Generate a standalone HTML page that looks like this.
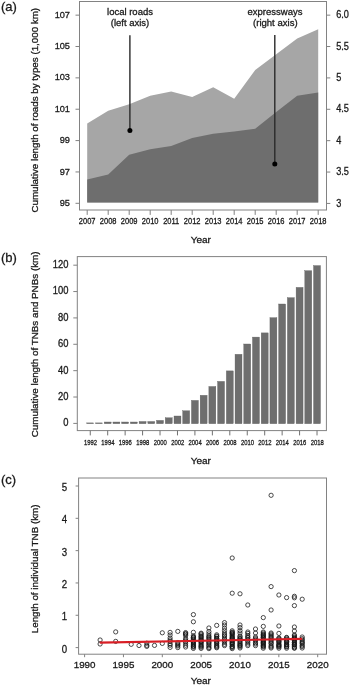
<!DOCTYPE html>
<html><head><meta charset="utf-8"><title>Figure</title>
<style>
html,body{margin:0;padding:0;background:#fff;}
svg{display:block;font-family:"Liberation Sans", Arial, sans-serif;}
</style></head><body>
<svg width="350" height="685" viewBox="0 0 350 685">
<rect width="350" height="685" fill="#fff"/>
<rect x="79.5" y="1.5" width="247.0" height="208.5" fill="none" stroke="#828282" stroke-width="1"/>
<polygon points="87.2,202.6 87.2,123.6 108.2,110.7 129.2,104.3 150.2,95.8 171.2,91.5 192.2,97.0 213.2,87.2 234.2,98.8 255.2,70.1 276.2,54.2 297.2,38.5 318.2,29.3 318.2,202.6" fill="#a6a6a6"/>
<polygon points="87.2,202.6 87.2,179.6 108.2,174.4 129.2,154.7 150.2,149.2 171.2,146.0 192.2,138.1 213.2,133.8 234.2,131.5 255.2,128.7 276.2,112.0 297.2,95.8 318.2,92.4 318.2,202.6" fill="#6e6e6e"/>
<line x1="75.50" y1="15.15" x2="79.50" y2="15.15" stroke="#828282" stroke-width="1.0" />
<text transform="translate(70.00,17.75) scale(0.94,1)" font-size="9.8" text-anchor="end" fill="#1a1a1a" stroke="#1a1a1a" stroke-width="0.3" >107</text>
<line x1="75.50" y1="46.51" x2="79.50" y2="46.51" stroke="#828282" stroke-width="1.0" />
<text transform="translate(70.00,49.11) scale(0.94,1)" font-size="9.8" text-anchor="end" fill="#1a1a1a" stroke="#1a1a1a" stroke-width="0.3" >105</text>
<line x1="75.50" y1="77.87" x2="79.50" y2="77.87" stroke="#828282" stroke-width="1.0" />
<text transform="translate(70.00,80.47) scale(0.94,1)" font-size="9.8" text-anchor="end" fill="#1a1a1a" stroke="#1a1a1a" stroke-width="0.3" >103</text>
<line x1="75.50" y1="109.23" x2="79.50" y2="109.23" stroke="#828282" stroke-width="1.0" />
<text transform="translate(70.00,111.83) scale(0.94,1)" font-size="9.8" text-anchor="end" fill="#1a1a1a" stroke="#1a1a1a" stroke-width="0.3" >101</text>
<line x1="75.50" y1="140.59" x2="79.50" y2="140.59" stroke="#828282" stroke-width="1.0" />
<text transform="translate(70.00,143.19) scale(0.94,1)" font-size="9.8" text-anchor="end" fill="#1a1a1a" stroke="#1a1a1a" stroke-width="0.3" >99</text>
<line x1="75.50" y1="171.95" x2="79.50" y2="171.95" stroke="#828282" stroke-width="1.0" />
<text transform="translate(70.00,174.55) scale(0.94,1)" font-size="9.8" text-anchor="end" fill="#1a1a1a" stroke="#1a1a1a" stroke-width="0.3" >97</text>
<line x1="75.50" y1="203.31" x2="79.50" y2="203.31" stroke="#828282" stroke-width="1.0" />
<text transform="translate(70.00,205.91) scale(0.94,1)" font-size="9.8" text-anchor="end" fill="#1a1a1a" stroke="#1a1a1a" stroke-width="0.3" >95</text>
<line x1="326.50" y1="15.15" x2="330.30" y2="15.15" stroke="#828282" stroke-width="1.0" />
<text transform="translate(336.20,18.25) scale(0.89,1)" font-size="10.3" text-anchor="start" fill="#1a1a1a" stroke="#1a1a1a" stroke-width="0.3" >6.0</text>
<line x1="326.50" y1="46.53" x2="330.30" y2="46.53" stroke="#828282" stroke-width="1.0" />
<text transform="translate(336.20,49.63) scale(0.89,1)" font-size="10.3" text-anchor="start" fill="#1a1a1a" stroke="#1a1a1a" stroke-width="0.3" >5.5</text>
<line x1="326.50" y1="77.91" x2="330.30" y2="77.91" stroke="#828282" stroke-width="1.0" />
<text transform="translate(336.20,81.01) scale(0.89,1)" font-size="10.3" text-anchor="start" fill="#1a1a1a" stroke="#1a1a1a" stroke-width="0.3" >5</text>
<line x1="326.50" y1="109.29" x2="330.30" y2="109.29" stroke="#828282" stroke-width="1.0" />
<text transform="translate(336.20,112.39) scale(0.89,1)" font-size="10.3" text-anchor="start" fill="#1a1a1a" stroke="#1a1a1a" stroke-width="0.3" >4.5</text>
<line x1="326.50" y1="140.67" x2="330.30" y2="140.67" stroke="#828282" stroke-width="1.0" />
<text transform="translate(336.20,143.77) scale(0.89,1)" font-size="10.3" text-anchor="start" fill="#1a1a1a" stroke="#1a1a1a" stroke-width="0.3" >4</text>
<line x1="326.50" y1="172.05" x2="330.30" y2="172.05" stroke="#828282" stroke-width="1.0" />
<text transform="translate(336.20,175.15) scale(0.89,1)" font-size="10.3" text-anchor="start" fill="#1a1a1a" stroke="#1a1a1a" stroke-width="0.3" >3.5</text>
<line x1="326.50" y1="203.43" x2="330.30" y2="203.43" stroke="#828282" stroke-width="1.0" />
<text transform="translate(336.20,206.53) scale(0.89,1)" font-size="10.3" text-anchor="start" fill="#1a1a1a" stroke="#1a1a1a" stroke-width="0.3" >3</text>
<line x1="87.20" y1="210.00" x2="87.20" y2="214.90" stroke="#828282" stroke-width="1.0" />
<text transform="translate(87.20,224.40) scale(0.835,1)" font-size="9.0" text-anchor="middle" fill="#1a1a1a" stroke="#1a1a1a" stroke-width="0.3" >2007</text>
<line x1="108.20" y1="210.00" x2="108.20" y2="214.90" stroke="#828282" stroke-width="1.0" />
<text transform="translate(108.20,224.40) scale(0.835,1)" font-size="9.0" text-anchor="middle" fill="#1a1a1a" stroke="#1a1a1a" stroke-width="0.3" >2008</text>
<line x1="129.20" y1="210.00" x2="129.20" y2="214.90" stroke="#828282" stroke-width="1.0" />
<text transform="translate(129.20,224.40) scale(0.835,1)" font-size="9.0" text-anchor="middle" fill="#1a1a1a" stroke="#1a1a1a" stroke-width="0.3" >2009</text>
<line x1="150.20" y1="210.00" x2="150.20" y2="214.90" stroke="#828282" stroke-width="1.0" />
<text transform="translate(150.20,224.40) scale(0.835,1)" font-size="9.0" text-anchor="middle" fill="#1a1a1a" stroke="#1a1a1a" stroke-width="0.3" >2010</text>
<line x1="171.20" y1="210.00" x2="171.20" y2="214.90" stroke="#828282" stroke-width="1.0" />
<text transform="translate(171.20,224.40) scale(0.835,1)" font-size="9.0" text-anchor="middle" fill="#1a1a1a" stroke="#1a1a1a" stroke-width="0.3" >2011</text>
<line x1="192.20" y1="210.00" x2="192.20" y2="214.90" stroke="#828282" stroke-width="1.0" />
<text transform="translate(192.20,224.40) scale(0.835,1)" font-size="9.0" text-anchor="middle" fill="#1a1a1a" stroke="#1a1a1a" stroke-width="0.3" >2012</text>
<line x1="213.20" y1="210.00" x2="213.20" y2="214.90" stroke="#828282" stroke-width="1.0" />
<text transform="translate(213.20,224.40) scale(0.835,1)" font-size="9.0" text-anchor="middle" fill="#1a1a1a" stroke="#1a1a1a" stroke-width="0.3" >2013</text>
<line x1="234.20" y1="210.00" x2="234.20" y2="214.90" stroke="#828282" stroke-width="1.0" />
<text transform="translate(234.20,224.40) scale(0.835,1)" font-size="9.0" text-anchor="middle" fill="#1a1a1a" stroke="#1a1a1a" stroke-width="0.3" >2014</text>
<line x1="255.20" y1="210.00" x2="255.20" y2="214.90" stroke="#828282" stroke-width="1.0" />
<text transform="translate(255.20,224.40) scale(0.835,1)" font-size="9.0" text-anchor="middle" fill="#1a1a1a" stroke="#1a1a1a" stroke-width="0.3" >2015</text>
<line x1="276.20" y1="210.00" x2="276.20" y2="214.90" stroke="#828282" stroke-width="1.0" />
<text transform="translate(276.20,224.40) scale(0.835,1)" font-size="9.0" text-anchor="middle" fill="#1a1a1a" stroke="#1a1a1a" stroke-width="0.3" >2016</text>
<line x1="297.20" y1="210.00" x2="297.20" y2="214.90" stroke="#828282" stroke-width="1.0" />
<text transform="translate(297.20,224.40) scale(0.835,1)" font-size="9.0" text-anchor="middle" fill="#1a1a1a" stroke="#1a1a1a" stroke-width="0.3" >2017</text>
<line x1="318.20" y1="210.00" x2="318.20" y2="214.90" stroke="#828282" stroke-width="1.0" />
<text transform="translate(318.20,224.40) scale(0.835,1)" font-size="9.0" text-anchor="middle" fill="#1a1a1a" stroke="#1a1a1a" stroke-width="0.3" >2018</text>
<text transform="translate(200.80,242.70) scale(1.05,1)" font-size="9.5" text-anchor="middle" fill="#1a1a1a" stroke="#1a1a1a" stroke-width="0.3" >Year</text>
<text transform="translate(37.80,110.25) rotate(-90) scale(1.034,1)" font-size="9.45" text-anchor="middle" fill="#1a1a1a" stroke="#1a1a1a" stroke-width="0.3" >Cumulative length of roads by types (1,000 km)</text>
<text transform="translate(1.00,10.90)" font-size="13" text-anchor="start" fill="#1a1a1a" stroke="#1a1a1a" stroke-width="0.3" >(a)</text>
<text transform="translate(130.00,14.50)" font-size="9.5" text-anchor="middle" fill="#1a1a1a" stroke="#1a1a1a" stroke-width="0.3" >local roads</text>
<text transform="translate(130.00,25.90)" font-size="9.5" text-anchor="middle" fill="#1a1a1a" stroke="#1a1a1a" stroke-width="0.3" >(left axis)</text>
<text transform="translate(275.00,14.50)" font-size="9.5" text-anchor="middle" fill="#1a1a1a" stroke="#1a1a1a" stroke-width="0.3" >expressways</text>
<text transform="translate(275.30,25.90)" font-size="9.55" text-anchor="middle" fill="#1a1a1a" stroke="#1a1a1a" stroke-width="0.3" >(right axis)</text>
<line x1="129.90" y1="35.20" x2="129.90" y2="130.40" stroke="#2a2a2a" stroke-width="1.4" />
<circle cx="129.9" cy="130.4" r="2.5" fill="#000"/>
<line x1="274.80" y1="35.00" x2="274.80" y2="163.90" stroke="#2a2a2a" stroke-width="1.4" />
<circle cx="274.8" cy="163.9" r="2.5" fill="#000"/>
<rect x="77.3" y="256.6" width="249.09999999999997" height="174.0" fill="none" stroke="#828282" stroke-width="1"/>
<line x1="73.30" y1="423.40" x2="77.30" y2="423.40" stroke="#828282" stroke-width="1.0" />
<text transform="translate(68.50,426.30) scale(0.94,1)" font-size="10.0" text-anchor="end" fill="#1a1a1a" stroke="#1a1a1a" stroke-width="0.3" >0</text>
<line x1="73.30" y1="397.03" x2="77.30" y2="397.03" stroke="#828282" stroke-width="1.0" />
<text transform="translate(68.50,399.93) scale(0.94,1)" font-size="10.0" text-anchor="end" fill="#1a1a1a" stroke="#1a1a1a" stroke-width="0.3" >20</text>
<line x1="73.30" y1="370.66" x2="77.30" y2="370.66" stroke="#828282" stroke-width="1.0" />
<text transform="translate(68.50,373.56) scale(0.94,1)" font-size="10.0" text-anchor="end" fill="#1a1a1a" stroke="#1a1a1a" stroke-width="0.3" >40</text>
<line x1="73.30" y1="344.29" x2="77.30" y2="344.29" stroke="#828282" stroke-width="1.0" />
<text transform="translate(68.50,347.19) scale(0.94,1)" font-size="10.0" text-anchor="end" fill="#1a1a1a" stroke="#1a1a1a" stroke-width="0.3" >60</text>
<line x1="73.30" y1="317.92" x2="77.30" y2="317.92" stroke="#828282" stroke-width="1.0" />
<text transform="translate(68.50,320.82) scale(0.94,1)" font-size="10.0" text-anchor="end" fill="#1a1a1a" stroke="#1a1a1a" stroke-width="0.3" >80</text>
<line x1="73.30" y1="291.55" x2="77.30" y2="291.55" stroke="#828282" stroke-width="1.0" />
<text transform="translate(68.50,294.45) scale(0.94,1)" font-size="10.0" text-anchor="end" fill="#1a1a1a" stroke="#1a1a1a" stroke-width="0.3" >100</text>
<line x1="73.30" y1="265.18" x2="77.30" y2="265.18" stroke="#828282" stroke-width="1.0" />
<text transform="translate(68.50,268.08) scale(0.94,1)" font-size="10.0" text-anchor="end" fill="#1a1a1a" stroke="#1a1a1a" stroke-width="0.3" >120</text>
<rect x="86.78" y="422.90" width="6.95" height="0.80" fill="#6e6e6e" stroke="#5c5c5c" stroke-width="0.35"/>
<rect x="95.50" y="422.90" width="6.95" height="0.80" fill="#6e6e6e" stroke="#5c5c5c" stroke-width="0.35"/>
<rect x="104.22" y="422.00" width="6.95" height="1.70" fill="#6e6e6e" stroke="#5c5c5c" stroke-width="0.35"/>
<rect x="112.94" y="422.00" width="6.95" height="1.70" fill="#6e6e6e" stroke="#5c5c5c" stroke-width="0.35"/>
<rect x="121.66" y="422.00" width="6.95" height="1.70" fill="#6e6e6e" stroke="#5c5c5c" stroke-width="0.35"/>
<rect x="130.39" y="422.00" width="6.95" height="1.70" fill="#6e6e6e" stroke="#5c5c5c" stroke-width="0.35"/>
<rect x="139.11" y="421.50" width="6.95" height="2.20" fill="#6e6e6e" stroke="#5c5c5c" stroke-width="0.35"/>
<rect x="147.83" y="421.50" width="6.95" height="2.20" fill="#6e6e6e" stroke="#5c5c5c" stroke-width="0.35"/>
<rect x="156.55" y="420.40" width="6.95" height="3.30" fill="#6e6e6e" stroke="#5c5c5c" stroke-width="0.35"/>
<rect x="165.27" y="417.80" width="6.95" height="5.90" fill="#6e6e6e" stroke="#5c5c5c" stroke-width="0.35"/>
<rect x="174.00" y="416.00" width="6.95" height="7.70" fill="#6e6e6e" stroke="#5c5c5c" stroke-width="0.35"/>
<rect x="182.72" y="410.80" width="6.95" height="12.90" fill="#6e6e6e" stroke="#5c5c5c" stroke-width="0.35"/>
<rect x="191.44" y="400.40" width="6.95" height="23.30" fill="#6e6e6e" stroke="#5c5c5c" stroke-width="0.35"/>
<rect x="200.16" y="395.30" width="6.95" height="28.40" fill="#6e6e6e" stroke="#5c5c5c" stroke-width="0.35"/>
<rect x="208.88" y="386.50" width="6.95" height="37.20" fill="#6e6e6e" stroke="#5c5c5c" stroke-width="0.35"/>
<rect x="217.60" y="381.40" width="6.95" height="42.30" fill="#6e6e6e" stroke="#5c5c5c" stroke-width="0.35"/>
<rect x="226.33" y="370.90" width="6.95" height="52.80" fill="#6e6e6e" stroke="#5c5c5c" stroke-width="0.35"/>
<rect x="235.05" y="354.30" width="6.95" height="69.40" fill="#6e6e6e" stroke="#5c5c5c" stroke-width="0.35"/>
<rect x="243.77" y="344.00" width="6.95" height="79.70" fill="#6e6e6e" stroke="#5c5c5c" stroke-width="0.35"/>
<rect x="252.49" y="337.10" width="6.95" height="86.60" fill="#6e6e6e" stroke="#5c5c5c" stroke-width="0.35"/>
<rect x="261.21" y="332.90" width="6.95" height="90.80" fill="#6e6e6e" stroke="#5c5c5c" stroke-width="0.35"/>
<rect x="269.94" y="317.70" width="6.95" height="106.00" fill="#6e6e6e" stroke="#5c5c5c" stroke-width="0.35"/>
<rect x="278.66" y="304.00" width="6.95" height="119.70" fill="#6e6e6e" stroke="#5c5c5c" stroke-width="0.35"/>
<rect x="287.38" y="297.70" width="6.95" height="126.00" fill="#6e6e6e" stroke="#5c5c5c" stroke-width="0.35"/>
<rect x="296.10" y="287.40" width="6.95" height="136.30" fill="#6e6e6e" stroke="#5c5c5c" stroke-width="0.35"/>
<rect x="304.82" y="270.70" width="6.95" height="153.00" fill="#6e6e6e" stroke="#5c5c5c" stroke-width="0.35"/>
<rect x="313.55" y="265.60" width="6.95" height="158.10" fill="#6e6e6e" stroke="#5c5c5c" stroke-width="0.35"/>
<line x1="90.25" y1="430.60" x2="90.25" y2="435.40" stroke="#707070" stroke-width="1.0" />
<text transform="translate(90.45,444.50) scale(0.745,1)" font-size="7.9" text-anchor="middle" fill="#1a1a1a" stroke="#1a1a1a" stroke-width="0.3" >1992</text>
<line x1="107.69" y1="430.60" x2="107.69" y2="435.40" stroke="#707070" stroke-width="1.0" />
<text transform="translate(107.89,444.50) scale(0.745,1)" font-size="7.9" text-anchor="middle" fill="#1a1a1a" stroke="#1a1a1a" stroke-width="0.3" >1994</text>
<line x1="125.14" y1="430.60" x2="125.14" y2="435.40" stroke="#707070" stroke-width="1.0" />
<text transform="translate(125.34,444.50) scale(0.745,1)" font-size="7.9" text-anchor="middle" fill="#1a1a1a" stroke="#1a1a1a" stroke-width="0.3" >1996</text>
<line x1="142.58" y1="430.60" x2="142.58" y2="435.40" stroke="#707070" stroke-width="1.0" />
<text transform="translate(142.78,444.50) scale(0.745,1)" font-size="7.9" text-anchor="middle" fill="#1a1a1a" stroke="#1a1a1a" stroke-width="0.3" >1998</text>
<line x1="160.03" y1="430.60" x2="160.03" y2="435.40" stroke="#707070" stroke-width="1.0" />
<text transform="translate(160.23,444.50) scale(0.745,1)" font-size="7.9" text-anchor="middle" fill="#1a1a1a" stroke="#1a1a1a" stroke-width="0.3" >2000</text>
<line x1="177.47" y1="430.60" x2="177.47" y2="435.40" stroke="#707070" stroke-width="1.0" />
<text transform="translate(177.67,444.50) scale(0.745,1)" font-size="7.9" text-anchor="middle" fill="#1a1a1a" stroke="#1a1a1a" stroke-width="0.3" >2002</text>
<line x1="194.91" y1="430.60" x2="194.91" y2="435.40" stroke="#707070" stroke-width="1.0" />
<text transform="translate(195.11,444.50) scale(0.745,1)" font-size="7.9" text-anchor="middle" fill="#1a1a1a" stroke="#1a1a1a" stroke-width="0.3" >2004</text>
<line x1="212.36" y1="430.60" x2="212.36" y2="435.40" stroke="#707070" stroke-width="1.0" />
<text transform="translate(212.56,444.50) scale(0.745,1)" font-size="7.9" text-anchor="middle" fill="#1a1a1a" stroke="#1a1a1a" stroke-width="0.3" >2006</text>
<line x1="229.80" y1="430.60" x2="229.80" y2="435.40" stroke="#707070" stroke-width="1.0" />
<text transform="translate(230.00,444.50) scale(0.745,1)" font-size="7.9" text-anchor="middle" fill="#1a1a1a" stroke="#1a1a1a" stroke-width="0.3" >2008</text>
<line x1="247.25" y1="430.60" x2="247.25" y2="435.40" stroke="#707070" stroke-width="1.0" />
<text transform="translate(247.45,444.50) scale(0.745,1)" font-size="7.9" text-anchor="middle" fill="#1a1a1a" stroke="#1a1a1a" stroke-width="0.3" >2010</text>
<line x1="264.69" y1="430.60" x2="264.69" y2="435.40" stroke="#707070" stroke-width="1.0" />
<text transform="translate(264.89,444.50) scale(0.745,1)" font-size="7.9" text-anchor="middle" fill="#1a1a1a" stroke="#1a1a1a" stroke-width="0.3" >2012</text>
<line x1="282.13" y1="430.60" x2="282.13" y2="435.40" stroke="#707070" stroke-width="1.0" />
<text transform="translate(282.33,444.50) scale(0.745,1)" font-size="7.9" text-anchor="middle" fill="#1a1a1a" stroke="#1a1a1a" stroke-width="0.3" >2014</text>
<line x1="299.58" y1="430.60" x2="299.58" y2="435.40" stroke="#707070" stroke-width="1.0" />
<text transform="translate(299.78,444.50) scale(0.745,1)" font-size="7.9" text-anchor="middle" fill="#1a1a1a" stroke="#1a1a1a" stroke-width="0.3" >2016</text>
<line x1="317.02" y1="430.60" x2="317.02" y2="435.40" stroke="#707070" stroke-width="1.0" />
<text transform="translate(317.22,444.50) scale(0.745,1)" font-size="7.9" text-anchor="middle" fill="#1a1a1a" stroke="#1a1a1a" stroke-width="0.3" >2018</text>
<text transform="translate(200.80,463.80) scale(1.05,1)" font-size="9.5" text-anchor="middle" fill="#1a1a1a" stroke="#1a1a1a" stroke-width="0.3" >Year</text>
<text transform="translate(38.30,344.40) rotate(-90) scale(1.04,1)" font-size="9.45" text-anchor="middle" fill="#1a1a1a" stroke="#1a1a1a" stroke-width="0.3" >Cumulative length of TNBs and PNBs (km)</text>
<text transform="translate(0.90,262.40)" font-size="13" text-anchor="start" fill="#1a1a1a" stroke="#1a1a1a" stroke-width="0.3" >(b)</text>
<rect x="78.6" y="478.0" width="247.9" height="176.20000000000005" fill="none" stroke="#828282" stroke-width="1"/>
<line x1="75.60" y1="647.60" x2="78.60" y2="647.60" stroke="#828282" stroke-width="1.0" />
<text transform="translate(67.20,652.60) scale(0.85,1)" font-size="11.4" text-anchor="end" fill="#1a1a1a" stroke="#1a1a1a" stroke-width="0.3" >0</text>
<line x1="75.60" y1="615.28" x2="78.60" y2="615.28" stroke="#828282" stroke-width="1.0" />
<text transform="translate(67.20,620.28) scale(0.85,1)" font-size="11.4" text-anchor="end" fill="#1a1a1a" stroke="#1a1a1a" stroke-width="0.3" >1</text>
<line x1="75.60" y1="582.96" x2="78.60" y2="582.96" stroke="#828282" stroke-width="1.0" />
<text transform="translate(67.20,587.96) scale(0.85,1)" font-size="11.4" text-anchor="end" fill="#1a1a1a" stroke="#1a1a1a" stroke-width="0.3" >2</text>
<line x1="75.60" y1="550.64" x2="78.60" y2="550.64" stroke="#828282" stroke-width="1.0" />
<text transform="translate(67.20,555.64) scale(0.85,1)" font-size="11.4" text-anchor="end" fill="#1a1a1a" stroke="#1a1a1a" stroke-width="0.3" >3</text>
<line x1="75.60" y1="518.32" x2="78.60" y2="518.32" stroke="#828282" stroke-width="1.0" />
<text transform="translate(67.20,523.32) scale(0.85,1)" font-size="11.4" text-anchor="end" fill="#1a1a1a" stroke="#1a1a1a" stroke-width="0.3" >4</text>
<line x1="75.60" y1="486.00" x2="78.60" y2="486.00" stroke="#828282" stroke-width="1.0" />
<text transform="translate(67.20,491.00) scale(0.85,1)" font-size="11.4" text-anchor="end" fill="#1a1a1a" stroke="#1a1a1a" stroke-width="0.3" >5</text>
<line x1="84.60" y1="654.20" x2="84.60" y2="657.20" stroke="#828282" stroke-width="1.0" />
<text transform="translate(84.60,668.40)" font-size="9.8" text-anchor="middle" fill="#1a1a1a" stroke="#1a1a1a" stroke-width="0.3" >1990</text>
<line x1="123.45" y1="654.20" x2="123.45" y2="657.20" stroke="#828282" stroke-width="1.0" />
<text transform="translate(123.45,668.40)" font-size="9.8" text-anchor="middle" fill="#1a1a1a" stroke="#1a1a1a" stroke-width="0.3" >1995</text>
<line x1="162.30" y1="654.20" x2="162.30" y2="657.20" stroke="#828282" stroke-width="1.0" />
<text transform="translate(162.30,668.40)" font-size="9.8" text-anchor="middle" fill="#1a1a1a" stroke="#1a1a1a" stroke-width="0.3" >2000</text>
<line x1="201.15" y1="654.20" x2="201.15" y2="657.20" stroke="#828282" stroke-width="1.0" />
<text transform="translate(201.15,668.40)" font-size="9.8" text-anchor="middle" fill="#1a1a1a" stroke="#1a1a1a" stroke-width="0.3" >2005</text>
<line x1="240.00" y1="654.20" x2="240.00" y2="657.20" stroke="#828282" stroke-width="1.0" />
<text transform="translate(240.00,668.40)" font-size="9.8" text-anchor="middle" fill="#1a1a1a" stroke="#1a1a1a" stroke-width="0.3" >2010</text>
<line x1="278.85" y1="654.20" x2="278.85" y2="657.20" stroke="#828282" stroke-width="1.0" />
<text transform="translate(278.85,668.40)" font-size="9.8" text-anchor="middle" fill="#1a1a1a" stroke="#1a1a1a" stroke-width="0.3" >2015</text>
<line x1="317.70" y1="654.20" x2="317.70" y2="657.20" stroke="#828282" stroke-width="1.0" />
<text transform="translate(317.70,668.40)" font-size="9.8" text-anchor="middle" fill="#1a1a1a" stroke="#1a1a1a" stroke-width="0.3" >2020</text>
<text transform="translate(200.80,683.60) scale(1.05,1)" font-size="9.5" text-anchor="middle" fill="#1a1a1a" stroke="#1a1a1a" stroke-width="0.3" >Year</text>
<text transform="translate(38.30,568.90) rotate(-90) scale(1.01,1)" font-size="9.7" text-anchor="middle" fill="#1a1a1a" stroke="#1a1a1a" stroke-width="0.3" >Length of individual TNB (km)</text>
<text transform="translate(0.90,483.50)" font-size="13" text-anchor="start" fill="#1a1a1a" stroke="#1a1a1a" stroke-width="0.3" >(c)</text>
<g fill="none" stroke="#111" stroke-width="0.75">
<circle cx="100.1" cy="640.0" r="2.12"/>
<circle cx="100.1" cy="644.0" r="2.12"/>
<circle cx="115.7" cy="631.9" r="2.12"/>
<circle cx="115.7" cy="641.4" r="2.12"/>
<circle cx="131.2" cy="644.3" r="2.12"/>
<circle cx="139.0" cy="645.5" r="2.12"/>
<circle cx="146.8" cy="643.2" r="2.12"/>
<circle cx="146.8" cy="645.3" r="2.12"/>
<circle cx="146.8" cy="646.4" r="2.12"/>
<circle cx="154.5" cy="645.4" r="2.12"/>
<circle cx="162.3" cy="632.8" r="2.12"/>
<circle cx="162.3" cy="643.4" r="2.12"/>
<circle cx="170.1" cy="632.4" r="2.12"/>
<circle cx="170.1" cy="635.0" r="2.12"/>
<circle cx="170.1" cy="638.0" r="2.12"/>
<circle cx="170.1" cy="640.0" r="2.12"/>
<circle cx="170.1" cy="641.5" r="2.12"/>
<circle cx="170.1" cy="643.8" r="2.12"/>
<circle cx="170.1" cy="645.2" r="2.12"/>
<circle cx="170.1" cy="647.4" r="2.12"/>
<circle cx="177.8" cy="631.4" r="2.12"/>
<circle cx="177.8" cy="642.6" r="2.12"/>
<circle cx="177.8" cy="643.9" r="2.12"/>
<circle cx="177.8" cy="645.0" r="2.12"/>
<circle cx="177.8" cy="646.0" r="2.12"/>
<circle cx="177.8" cy="647.6" r="2.12"/>
<circle cx="185.6" cy="632.6" r="2.12"/>
<circle cx="185.6" cy="633.6" r="2.12"/>
<circle cx="185.6" cy="634.2" r="2.12"/>
<circle cx="185.6" cy="635.6" r="2.12"/>
<circle cx="185.6" cy="638.5" r="2.12"/>
<circle cx="185.6" cy="640.1" r="2.12"/>
<circle cx="185.6" cy="641.5" r="2.12"/>
<circle cx="185.6" cy="643.2" r="2.12"/>
<circle cx="185.6" cy="645.2" r="2.12"/>
<circle cx="185.6" cy="647.0" r="2.12"/>
<circle cx="193.4" cy="614.6" r="2.12"/>
<circle cx="193.4" cy="621.8" r="2.12"/>
<circle cx="193.4" cy="632.3" r="2.12"/>
<circle cx="193.4" cy="635.8" r="2.12"/>
<circle cx="193.4" cy="637.1" r="2.12"/>
<circle cx="193.4" cy="637.4" r="2.12"/>
<circle cx="193.4" cy="638.5" r="2.12"/>
<circle cx="193.4" cy="639.8" r="2.12"/>
<circle cx="193.4" cy="641.0" r="2.12"/>
<circle cx="193.4" cy="641.7" r="2.12"/>
<circle cx="193.4" cy="642.5" r="2.12"/>
<circle cx="193.4" cy="644.0" r="2.12"/>
<circle cx="193.4" cy="644.1" r="2.12"/>
<circle cx="193.4" cy="645.8" r="2.12"/>
<circle cx="193.4" cy="646.3" r="2.12"/>
<circle cx="193.4" cy="647.1" r="2.12"/>
<circle cx="193.4" cy="648.4" r="2.12"/>
<circle cx="201.1" cy="633.2" r="2.12"/>
<circle cx="201.1" cy="633.9" r="2.12"/>
<circle cx="201.1" cy="635.1" r="2.12"/>
<circle cx="201.1" cy="636.5" r="2.12"/>
<circle cx="201.1" cy="637.0" r="2.12"/>
<circle cx="201.1" cy="638.3" r="2.12"/>
<circle cx="201.1" cy="639.4" r="2.12"/>
<circle cx="201.1" cy="640.2" r="2.12"/>
<circle cx="201.1" cy="641.3" r="2.12"/>
<circle cx="201.1" cy="641.9" r="2.12"/>
<circle cx="201.1" cy="642.9" r="2.12"/>
<circle cx="201.1" cy="644.1" r="2.12"/>
<circle cx="201.1" cy="645.5" r="2.12"/>
<circle cx="201.1" cy="646.3" r="2.12"/>
<circle cx="201.1" cy="647.2" r="2.12"/>
<circle cx="201.1" cy="648.4" r="2.12"/>
<circle cx="208.9" cy="628.0" r="2.12"/>
<circle cx="208.9" cy="631.6" r="2.12"/>
<circle cx="208.9" cy="633.9" r="2.12"/>
<circle cx="208.9" cy="636.0" r="2.12"/>
<circle cx="208.9" cy="637.0" r="2.12"/>
<circle cx="208.9" cy="638.2" r="2.12"/>
<circle cx="208.9" cy="639.4" r="2.12"/>
<circle cx="208.9" cy="641.1" r="2.12"/>
<circle cx="208.9" cy="642.3" r="2.12"/>
<circle cx="208.9" cy="643.2" r="2.12"/>
<circle cx="208.9" cy="644.8" r="2.12"/>
<circle cx="208.9" cy="646.0" r="2.12"/>
<circle cx="208.9" cy="647.6" r="2.12"/>
<circle cx="208.9" cy="648.6" r="2.12"/>
<circle cx="216.7" cy="625.4" r="2.12"/>
<circle cx="216.7" cy="634.8" r="2.12"/>
<circle cx="216.7" cy="636.0" r="2.12"/>
<circle cx="216.7" cy="636.6" r="2.12"/>
<circle cx="216.7" cy="638.2" r="2.12"/>
<circle cx="216.7" cy="638.5" r="2.12"/>
<circle cx="216.7" cy="639.7" r="2.12"/>
<circle cx="216.7" cy="641.0" r="2.12"/>
<circle cx="216.7" cy="641.5" r="2.12"/>
<circle cx="216.7" cy="642.8" r="2.12"/>
<circle cx="216.7" cy="643.4" r="2.12"/>
<circle cx="216.7" cy="645.0" r="2.12"/>
<circle cx="216.7" cy="646.0" r="2.12"/>
<circle cx="216.7" cy="646.9" r="2.12"/>
<circle cx="216.7" cy="647.8" r="2.12"/>
<circle cx="224.5" cy="622.6" r="2.12"/>
<circle cx="224.5" cy="625.0" r="2.12"/>
<circle cx="224.5" cy="628.0" r="2.12"/>
<circle cx="224.5" cy="630.6" r="2.12"/>
<circle cx="224.5" cy="633.0" r="2.12"/>
<circle cx="224.5" cy="634.9" r="2.12"/>
<circle cx="224.5" cy="636.0" r="2.12"/>
<circle cx="224.5" cy="637.9" r="2.12"/>
<circle cx="224.5" cy="639.4" r="2.12"/>
<circle cx="224.5" cy="640.9" r="2.12"/>
<circle cx="224.5" cy="642.4" r="2.12"/>
<circle cx="224.5" cy="644.3" r="2.12"/>
<circle cx="224.5" cy="645.6" r="2.12"/>
<circle cx="232.2" cy="558.0" r="2.12"/>
<circle cx="232.2" cy="593.2" r="2.12"/>
<circle cx="232.2" cy="630.8" r="2.12"/>
<circle cx="232.2" cy="632.1" r="2.12"/>
<circle cx="232.2" cy="632.6" r="2.12"/>
<circle cx="232.2" cy="633.6" r="2.12"/>
<circle cx="232.2" cy="634.0" r="2.12"/>
<circle cx="232.2" cy="635.4" r="2.12"/>
<circle cx="232.2" cy="636.3" r="2.12"/>
<circle cx="232.2" cy="637.5" r="2.12"/>
<circle cx="232.2" cy="638.2" r="2.12"/>
<circle cx="232.2" cy="638.6" r="2.12"/>
<circle cx="232.2" cy="639.6" r="2.12"/>
<circle cx="232.2" cy="640.7" r="2.12"/>
<circle cx="232.2" cy="641.1" r="2.12"/>
<circle cx="232.2" cy="642.3" r="2.12"/>
<circle cx="232.2" cy="643.0" r="2.12"/>
<circle cx="232.2" cy="643.8" r="2.12"/>
<circle cx="232.2" cy="644.6" r="2.12"/>
<circle cx="232.2" cy="646.2" r="2.12"/>
<circle cx="232.2" cy="646.5" r="2.12"/>
<circle cx="232.2" cy="647.5" r="2.12"/>
<circle cx="232.2" cy="648.6" r="2.12"/>
<circle cx="240.0" cy="593.8" r="2.12"/>
<circle cx="240.0" cy="625.0" r="2.12"/>
<circle cx="240.0" cy="627.6" r="2.12"/>
<circle cx="240.0" cy="630.6" r="2.12"/>
<circle cx="240.0" cy="633.0" r="2.12"/>
<circle cx="240.0" cy="636.0" r="2.12"/>
<circle cx="240.0" cy="637.0" r="2.12"/>
<circle cx="240.0" cy="638.5" r="2.12"/>
<circle cx="240.0" cy="638.9" r="2.12"/>
<circle cx="240.0" cy="640.3" r="2.12"/>
<circle cx="240.0" cy="641.5" r="2.12"/>
<circle cx="240.0" cy="642.9" r="2.12"/>
<circle cx="240.0" cy="643.9" r="2.12"/>
<circle cx="240.0" cy="645.1" r="2.12"/>
<circle cx="240.0" cy="645.6" r="2.12"/>
<circle cx="240.0" cy="646.8" r="2.12"/>
<circle cx="240.0" cy="648.0" r="2.12"/>
<circle cx="247.8" cy="605.0" r="2.12"/>
<circle cx="247.8" cy="632.0" r="2.12"/>
<circle cx="247.8" cy="633.4" r="2.12"/>
<circle cx="247.8" cy="635.4" r="2.12"/>
<circle cx="247.8" cy="636.9" r="2.12"/>
<circle cx="247.8" cy="637.7" r="2.12"/>
<circle cx="247.8" cy="639.3" r="2.12"/>
<circle cx="247.8" cy="640.8" r="2.12"/>
<circle cx="247.8" cy="642.3" r="2.12"/>
<circle cx="247.8" cy="644.1" r="2.12"/>
<circle cx="247.8" cy="645.6" r="2.12"/>
<circle cx="255.5" cy="629.0" r="2.12"/>
<circle cx="255.5" cy="633.0" r="2.12"/>
<circle cx="255.5" cy="637.0" r="2.12"/>
<circle cx="255.5" cy="638.5" r="2.12"/>
<circle cx="255.5" cy="639.7" r="2.12"/>
<circle cx="255.5" cy="640.9" r="2.12"/>
<circle cx="255.5" cy="642.7" r="2.12"/>
<circle cx="255.5" cy="644.0" r="2.12"/>
<circle cx="255.5" cy="645.6" r="2.12"/>
<circle cx="263.3" cy="617.6" r="2.12"/>
<circle cx="263.3" cy="626.4" r="2.12"/>
<circle cx="263.3" cy="632.0" r="2.12"/>
<circle cx="263.3" cy="633.0" r="2.12"/>
<circle cx="263.3" cy="634.2" r="2.12"/>
<circle cx="263.3" cy="634.9" r="2.12"/>
<circle cx="263.3" cy="635.6" r="2.12"/>
<circle cx="263.3" cy="636.6" r="2.12"/>
<circle cx="263.3" cy="637.6" r="2.12"/>
<circle cx="263.3" cy="637.9" r="2.12"/>
<circle cx="263.3" cy="639.6" r="2.12"/>
<circle cx="263.3" cy="640.4" r="2.12"/>
<circle cx="263.3" cy="641.3" r="2.12"/>
<circle cx="263.3" cy="642.2" r="2.12"/>
<circle cx="263.3" cy="642.7" r="2.12"/>
<circle cx="263.3" cy="643.6" r="2.12"/>
<circle cx="263.3" cy="644.2" r="2.12"/>
<circle cx="263.3" cy="645.6" r="2.12"/>
<circle cx="263.3" cy="646.0" r="2.12"/>
<circle cx="263.3" cy="646.9" r="2.12"/>
<circle cx="263.3" cy="648.2" r="2.12"/>
<circle cx="271.1" cy="495.3" r="2.12"/>
<circle cx="271.1" cy="586.6" r="2.12"/>
<circle cx="271.1" cy="610.0" r="2.12"/>
<circle cx="271.1" cy="633.0" r="2.12"/>
<circle cx="271.1" cy="634.0" r="2.12"/>
<circle cx="271.1" cy="635.2" r="2.12"/>
<circle cx="271.1" cy="636.6" r="2.12"/>
<circle cx="271.1" cy="637.6" r="2.12"/>
<circle cx="271.1" cy="638.8" r="2.12"/>
<circle cx="271.1" cy="640.2" r="2.12"/>
<circle cx="271.1" cy="641.4" r="2.12"/>
<circle cx="271.1" cy="642.9" r="2.12"/>
<circle cx="271.1" cy="643.8" r="2.12"/>
<circle cx="271.1" cy="645.8" r="2.12"/>
<circle cx="271.1" cy="646.9" r="2.12"/>
<circle cx="271.1" cy="648.0" r="2.12"/>
<circle cx="278.9" cy="595.0" r="2.12"/>
<circle cx="278.9" cy="626.0" r="2.12"/>
<circle cx="278.9" cy="633.4" r="2.12"/>
<circle cx="278.9" cy="638.0" r="2.12"/>
<circle cx="278.9" cy="638.6" r="2.12"/>
<circle cx="278.9" cy="639.6" r="2.12"/>
<circle cx="278.9" cy="640.6" r="2.12"/>
<circle cx="278.9" cy="641.6" r="2.12"/>
<circle cx="278.9" cy="642.3" r="2.12"/>
<circle cx="278.9" cy="643.9" r="2.12"/>
<circle cx="278.9" cy="644.9" r="2.12"/>
<circle cx="278.9" cy="645.4" r="2.12"/>
<circle cx="278.9" cy="646.3" r="2.12"/>
<circle cx="278.9" cy="646.9" r="2.12"/>
<circle cx="278.9" cy="648.2" r="2.12"/>
<circle cx="286.6" cy="597.6" r="2.12"/>
<circle cx="286.6" cy="637.4" r="2.12"/>
<circle cx="286.6" cy="637.9" r="2.12"/>
<circle cx="286.6" cy="639.1" r="2.12"/>
<circle cx="286.6" cy="639.9" r="2.12"/>
<circle cx="286.6" cy="641.3" r="2.12"/>
<circle cx="286.6" cy="641.6" r="2.12"/>
<circle cx="286.6" cy="642.4" r="2.12"/>
<circle cx="286.6" cy="644.1" r="2.12"/>
<circle cx="286.6" cy="644.6" r="2.12"/>
<circle cx="286.6" cy="645.2" r="2.12"/>
<circle cx="286.6" cy="646.4" r="2.12"/>
<circle cx="286.6" cy="646.9" r="2.12"/>
<circle cx="286.6" cy="648.2" r="2.12"/>
<circle cx="294.4" cy="570.6" r="2.12"/>
<circle cx="294.4" cy="596.3" r="2.12"/>
<circle cx="294.4" cy="597.8" r="2.12"/>
<circle cx="294.4" cy="605.6" r="2.12"/>
<circle cx="294.4" cy="627.0" r="2.12"/>
<circle cx="294.4" cy="631.0" r="2.12"/>
<circle cx="294.4" cy="635.0" r="2.12"/>
<circle cx="294.4" cy="635.9" r="2.12"/>
<circle cx="294.4" cy="637.2" r="2.12"/>
<circle cx="294.4" cy="638.0" r="2.12"/>
<circle cx="294.4" cy="638.7" r="2.12"/>
<circle cx="294.4" cy="639.2" r="2.12"/>
<circle cx="294.4" cy="640.2" r="2.12"/>
<circle cx="294.4" cy="640.9" r="2.12"/>
<circle cx="294.4" cy="642.3" r="2.12"/>
<circle cx="294.4" cy="642.9" r="2.12"/>
<circle cx="294.4" cy="644.1" r="2.12"/>
<circle cx="294.4" cy="644.5" r="2.12"/>
<circle cx="294.4" cy="645.3" r="2.12"/>
<circle cx="294.4" cy="646.7" r="2.12"/>
<circle cx="294.4" cy="647.8" r="2.12"/>
<circle cx="294.4" cy="648.2" r="2.12"/>
<circle cx="302.2" cy="599.2" r="2.12"/>
<circle cx="302.2" cy="637.0" r="2.12"/>
<circle cx="302.2" cy="638.7" r="2.12"/>
<circle cx="302.2" cy="640.0" r="2.12"/>
<circle cx="302.2" cy="641.4" r="2.12"/>
<circle cx="302.2" cy="642.7" r="2.12"/>
<circle cx="302.2" cy="643.6" r="2.12"/>
<circle cx="302.2" cy="645.3" r="2.12"/>
<circle cx="302.2" cy="646.5" r="2.12"/>
<circle cx="302.2" cy="648.0" r="2.12"/>
</g>
<line x1="99.84" y1="642.60" x2="302.16" y2="638.90" stroke="#d81e25" stroke-width="2.1" />
</svg>
</body></html>
